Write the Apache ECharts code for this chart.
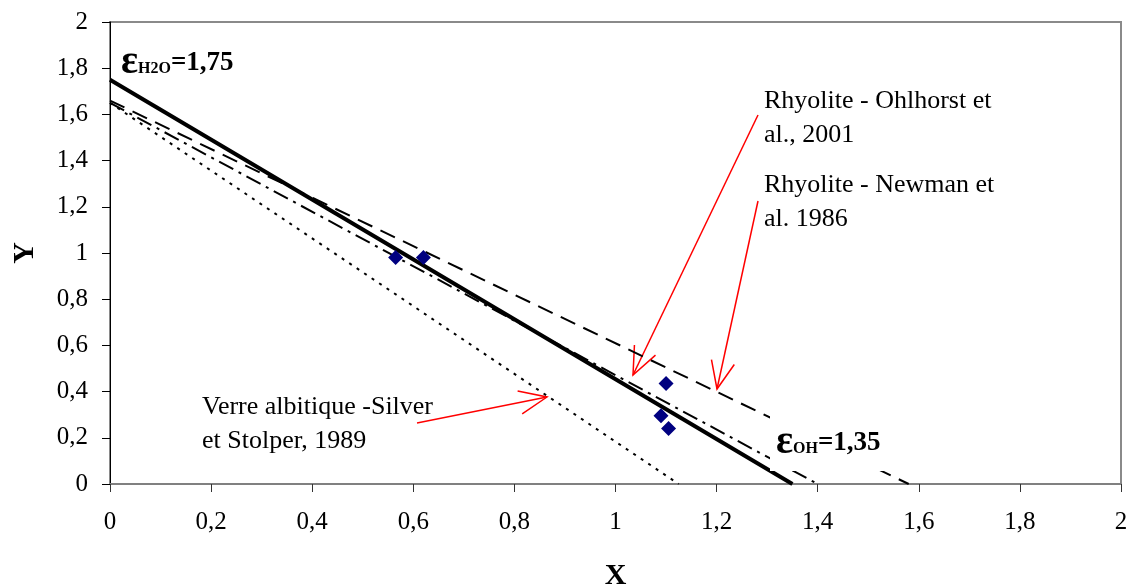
<!DOCTYPE html>
<html>
<head>
<meta charset="utf-8">
<script src="https://cdn.jsdelivr.net/npm/echarts@6/dist/echarts.min.js"></script>
<style>
  html, body { margin: 0; padding: 0; background: #fff; }
  #main { width: 1130px; height: 586px; }
</style>
</head>
<body>
<div id="main"></div>
<script>
// fitted lines, each from its intercept on Y down to Y = 0
var lineEps = [[0, 1.75], [1.35, 0]];
var lineNewman = [[0, 1.66], [1.58, 0]];
var lineOhlhorst = [[0, 1.65], [1.40, 0]];
var lineSilver = [[0, 1.65], [1.125, 0]];
// measured points
var pointsX = [0.565, 0.62, 1.10, 1.09, 1.105];
var pointsY = [0.98, 0.98, 0.435, 0.295, 0.24];

var serif = 'Liberation Serif, Times New Roman, serif';
var fmt = function (v) { return String(Math.round(v * 10) / 10).replace('.', ','); };

var chart = echarts.init(document.getElementById('main'));

chart.setOption({
  animation: false,
  backgroundColor: '#fff',
  grid: {
    left: 110, right: 9, top: 22, bottom: 102,
    containLabel: false,
    outerBoundsMode: 'none',
    show: true,
    borderColor: '#8a8a8a',
    borderWidth: 2
  },
  xAxis: {
    type: 'value',
    min: 0, max: 2, interval: 0.2,
    name: 'X',
    nameLocation: 'middle',
    nameGap: 77,
    nameTextStyle: { fontFamily: serif, fontSize: 30, fontWeight: 'bold', color: '#000' },
    axisLine: { lineStyle: { color: '#808080', width: 2 } },
    axisTick: { show: true, length: 8, lineStyle: { color: '#333' } },
    axisLabel: { formatter: fmt, margin: 26, fontFamily: serif, fontSize: 25, color: '#000' },
    splitLine: { show: false }
  },
  yAxis: {
    type: 'value',
    min: 0, max: 2, interval: 0.2,
    name: 'Y',
    nameLocation: 'middle',
    nameGap: 70,
    nameTextStyle: { fontFamily: serif, fontSize: 30, fontWeight: 'bold', color: '#000' },
    axisLine: { show: true, lineStyle: { color: '#000', width: 1 } },
    axisTick: { show: true, length: 8, lineStyle: { color: '#000' } },
    axisLabel: { formatter: fmt, margin: 22, fontFamily: serif, fontSize: 25, color: '#000' },
    splitLine: { show: false }
  },
  series: [
    {
      type: 'line', data: lineSilver, symbol: 'none', silent: true,
      lineStyle: { color: '#000', width: 2, type: [3, 6] }
    },
    {
      type: 'line', data: lineOhlhorst, symbol: 'none', silent: true,
      lineStyle: { color: '#000', width: 2, type: [16, 6, 3, 6] }
    },
    {
      type: 'line', data: lineNewman, symbol: 'none', silent: true,
      lineStyle: { color: '#000', width: 2, type: [16, 9] }
    },
    {
      type: 'line', data: lineEps, symbol: 'none', silent: true,
      lineStyle: { color: '#000', width: 4 }
    },
    {
      type: 'scatter',
      symbol: 'diamond',
      symbolSize: 15,
      z: 5,
      itemStyle: { color: '#000080', opacity: 1 },
      data: pointsX.map(function (x, i) { return [x, pointsY[i]]; })
    }
  ]
});

// red arrow from a label to its line, pixel coordinates
function arrow(x1, y1, x2, y2) {
  var a = Math.atan2(y1 - y2, x1 - x2), len = 30, sp = 0.4;
  var w1 = [x2 + len * Math.cos(a + sp), y2 + len * Math.sin(a + sp)];
  var w2 = [x2 + len * Math.cos(a - sp), y2 + len * Math.sin(a - sp)];
  return {
    type: 'group', z: 100,
    children: [
      { type: 'line', shape: { x1: x1, y1: y1, x2: x2, y2: y2 }, style: { stroke: '#ff0000', lineWidth: 1.5 } },
      { type: 'polyline', shape: { points: [w1, [x2, y2], w2] }, style: { stroke: '#ff0000', lineWidth: 1.5, fill: null } }
    ]
  };
}

function note(x, y, text) {
  return {
    type: 'text', x: x, y: y, z: 101,
    style: { text: text, font: '26px ' + serif, fill: '#000', lineHeight: 34 }
  };
}

var epsRich = {
  e: { fontFamily: serif, fontSize: 40, fontWeight: 'bold', fill: '#000' },
  s: { fontFamily: serif, fontSize: 16, fontWeight: 'bold', fill: '#000', padding: [12, 0, 0, 0] },
  n: { fontFamily: serif, fontSize: 27, fontWeight: 'bold', fill: '#000' }
};

chart.setOption({
  graphic: [
    { type: 'rect', z: 90, shape: { x: 770, y: 405, width: 135, height: 66 }, style: { fill: '#fff' } },
    {
      type: 'text', x: 121, y: 43, z: 101,
      style: { text: '{e|ε}{s|H2O}{n|=1,75}', rich: epsRich }
    },
    {
      type: 'text', x: 776, y: 423, z: 101,
      style: { text: '{e|ε}{s|OH}{n|=1,35}', rich: epsRich }
    },
    note(764, 84, 'Rhyolite - Ohlhorst et\nal., 2001'),
    note(764, 168, 'Rhyolite - Newman et\nal. 1986'),
    note(202, 390, 'Verre albitique -Silver\net Stolper, 1989'),
    arrow(758, 115, 633, 375),
    arrow(758, 201, 717, 389),
    arrow(417, 423, 547, 397)
  ]
});
</script>
</body>
</html>
